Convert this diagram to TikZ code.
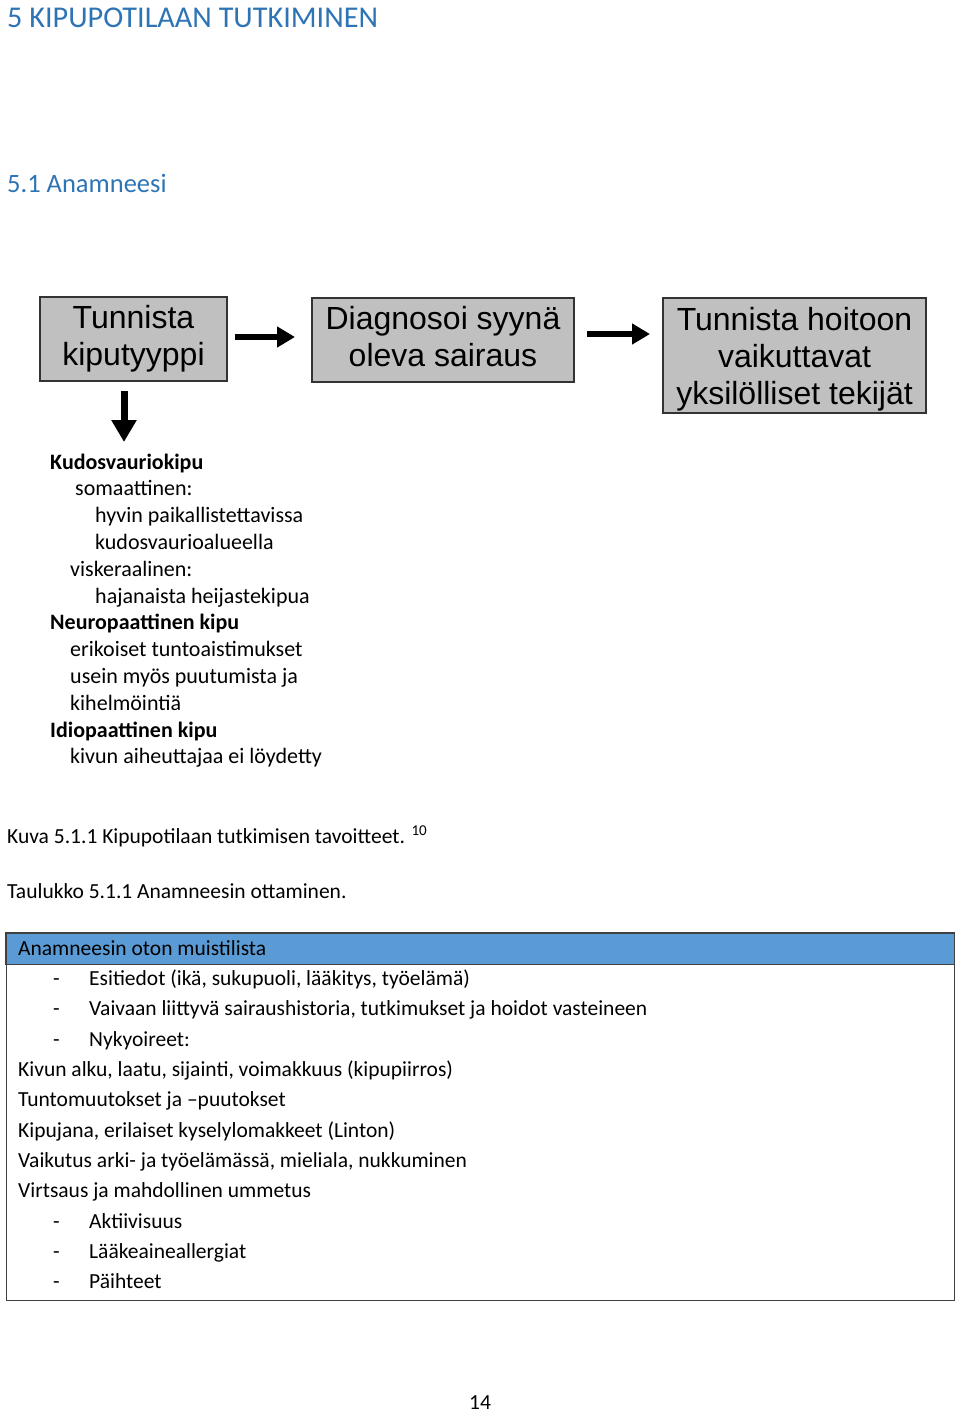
\documentclass[tikz,border=0pt]{standalone}
\usepackage{fontspec}
\setmainfont{Carlito}
\newfontfamily\arialfont{Liberation Sans}
\usetikzlibrary{arrows.meta}
\definecolor{otsikko}{HTML}{2E74B5}
\definecolor{laatikko}{HTML}{C0C0C0}
\definecolor{ylarivi}{HTML}{5B9BD5}
\tikzset{
  vaihe/.style={draw=black!80, line width=2pt, fill=laatikko, align=center, inner sep=0pt, font=\arialfont\fontsize{32}{37}\selectfont},
  nuoli/.style={line width=6pt, -{Triangle[length=18pt,width=20pt]}},
  teksti/.style={anchor=base west, inner sep=0pt, font=\fontsize{21.5}{26}\selectfont},
  lista/.style={anchor=base west, inner sep=0pt, font=\fontsize{22}{27}\selectfont},
}
\begin{document}
\begin{tikzpicture}[x=1pt,y=-1pt]
\useasboundingbox (0,0) rectangle (960,1413);

\node[teksti, text=otsikko, font=\fontsize{30.2}{34}\selectfont] (luku) at (7,28) {5 KIPUPOTILAAN TUTKIMINEN};
\node[teksti, text=otsikko, font=\fontsize{26.5}{30}\selectfont] (aliluku) at (7,192) {5.1 Anamneesi};

\node[vaihe, minimum width=187pt, minimum height=84pt] (tunnista) at (133.5,339) {Tunnista\\kiputyyppi};
\node[vaihe, minimum width=262pt, minimum height=84pt] (diagnosoi) at (443,340) {Diagnosoi syynä\\oleva sairaus\vphantom{\rule[-8pt]{0pt}{1pt}}};
\node[vaihe, minimum width=263pt, minimum height=115pt] (yksilo) at (794.5,355.5) {\rule{0pt}{30pt}Tunnista hoitoon\\vaikuttavat\\yksilölliset tekijät};

\draw[nuoli, shorten <=7pt, shorten >=16pt] ([yshift=2pt]tunnista.east) -- ([yshift=2pt]tunnista.east -| diagnosoi.west);
\draw[nuoli, shorten <=12pt, shorten >=12pt] ([yshift=6pt]diagnosoi.east) -- ([yshift=6pt]diagnosoi.east -| yksilo.west);
\coordinate (alas) at (124,442);
\draw[nuoli, line width=7pt, -{Triangle[length=22pt,width=24pt]}, shorten <=9pt] (tunnista.south -| alas) -- (alas);

\node[lista, font=\fontsize{22}{27}\selectfont\bfseries] (kudos) at (50,469) {Kudosvauriokipu};
\node[lista] (soma) at (75,495.8) {somaattinen:};
\node[lista] (hyvin) at (95,522.6) {hyvin paikallistettavissa};
\node[lista] (alue) at (95,549.4) {kudosvaurioalueella};
\node[lista] (visk) at (70,576.2) {viskeraalinen:};
\node[lista] (haja) at (95,603) {hajanaista heijastekipua};
\node[lista, font=\fontsize{22}{27}\selectfont\bfseries] (neuro) at (50,629.8) {Neuropaattinen kipu};
\node[lista] (erik) at (70,656.6) {erikoiset tuntoaistimukset};
\node[lista] (usein) at (70,683.4) {usein myös puutumista ja};
\node[lista] (kihel) at (70,710.2) {kihelmöintiä};
\node[lista, font=\fontsize{22}{27}\selectfont\bfseries] (idio) at (50,737) {Idiopaattinen kipu};
\node[lista] (kivun) at (70,763.8) {kivun aiheuttajaa ei löydetty};

\node[teksti] (kuva) at (7,843) {Kuva 5.1.1 Kipupotilaan tutkimisen tavoitteet. \textsuperscript{10}};
\node[teksti] (taulu) at (7,898) {Taulukko 5.1.1 Anamneesin ottaminen.};

\node[draw=black!75, line width=1.2pt, minimum width=948pt, minimum height=367pt, anchor=north west, inner sep=0pt] (taulukko) at (6,933) {};
\node[fill=ylarivi, minimum width=948pt, minimum height=31pt, anchor=north west, inner sep=0pt] (otsake) at (6,933) {};
\draw[black!75, line width=1.2pt] (otsake.north west) rectangle (otsake.south east);
\node[teksti] (muisti) at (18,955) {Anamneesin oton muistilista};

\node[teksti] at (53,985.35) {-};
\node[teksti] (rivi1) at (89,985.35) {Esitiedot (ikä, sukupuoli, lääkitys, työelämä)};
\node[teksti] at (53,1015.7) {-};
\node[teksti] (rivi2) at (89,1015.7) {Vaivaan liittyvä sairaushistoria, tutkimukset ja hoidot vasteineen};
\node[teksti] at (53,1046.05) {-};
\node[teksti] (rivi3) at (89,1046.05) {Nykyoireet:};
\node[teksti] (rivi4) at (18,1076.4) {Kivun alku, laatu, sijainti, voimakkuus (kipupiirros)};
\node[teksti] (rivi5) at (18,1106.75) {Tuntomuutokset ja –puutokset};
\node[teksti] (rivi6) at (18,1137.1) {Kipujana, erilaiset kyselylomakkeet (Linton)};
\node[teksti] (rivi7) at (18,1167.45) {Vaikutus arki- ja työelämässä, mieliala, nukkuminen};
\node[teksti] (rivi8) at (18,1197.8) {Virtsaus ja mahdollinen ummetus};
\node[teksti] at (53,1228.15) {-};
\node[teksti] (rivi9) at (89,1228.15) {Aktiivisuus};
\node[teksti] at (53,1258.5) {-};
\node[teksti] (rivi10) at (89,1258.5) {Lääkeaineallergiat};
\node[teksti] at (53,1288.85) {-};
\node[teksti] (rivi11) at (89,1288.85) {Päihteet};

\node[teksti, anchor=base] (sivu) at (480,1409) {14};
\end{tikzpicture}
\end{document}
